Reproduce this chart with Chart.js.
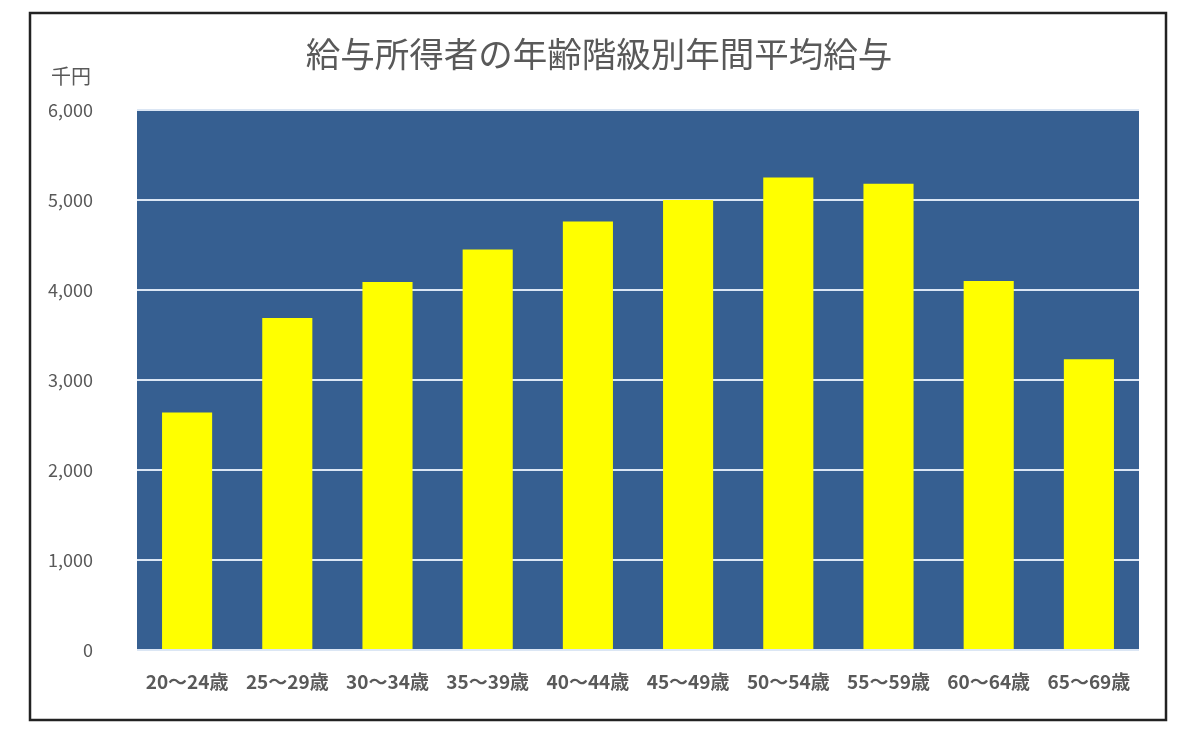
<!DOCTYPE html>
<html>
<head>
<meta charset="utf-8">
<script src="https://cdn.jsdelivr.net/npm/chart.js@4"></script>
<style>
  html, body { margin: 0; padding: 0; background: #fff; }
  #wrap { width: 1200px; height: 732px; position: relative; }
</style>
</head>
<body>
<div id="wrap"><canvas id="chart-salary"></canvas></div>
<script>
const chartTitle = "給与所得者の年齢階級別年間平均給与";
const unitLabel = "千円";
const ageGroups = ["20～24歳", "25～29歳", "30～34歳", "35～39歳", "40～44歳",
                   "45～49歳", "50～54歳", "55～59歳", "60～64歳", "65～69歳"];
const avgSalary = [2640, 3690, 4090, 4450, 4760, 5000, 5250, 5180, 4100, 3230];
const yTicks = [0, 1000, 2000, 3000, 4000, 5000, 6000];

const FONT = "'Noto Sans CJK JP', 'Noto Sans', sans-serif";
const GREY = "#595959";

// plot background, title, unit label and outer frame
const decor = {
    id: "decor",
    beforeDraw(chart) {
        const { ctx, chartArea: a } = chart;
        ctx.save();
        ctx.fillStyle = "#365f91";
        ctx.fillRect(a.left, a.top, a.right - a.left, a.bottom - a.top);
        ctx.restore();
    },
    afterDraw(chart) {
        const { ctx } = chart;
        ctx.save();
        ctx.fillStyle = GREY;
        ctx.textAlign = "center";
        ctx.textBaseline = "middle";
        ctx.font = "34.5px " + FONT;
        ctx.fillText(chartTitle, 599, 54);
        ctx.font = "20px " + FONT;
        ctx.fillText(unitLabel, 71, 76);
        ctx.strokeStyle = "#222";
        ctx.lineWidth = 2.5;
        ctx.strokeRect(30, 13, 1136, 707);
        ctx.restore();
    },
};

const ctx = document.getElementById("chart-salary").getContext("2d");
const chart = new Chart(ctx, {
    type: "bar",
    data: {
        labels: ageGroups,
        datasets: [
            {
                label: "年間平均給与",
                data: avgSalary,
                backgroundColor: "#ffff00",
                borderWidth: 0,
                barPercentage: 0.5,
                categoryPercentage: 1.0,
            },
        ],
    },
    options: {
        responsive: true,
        maintainAspectRatio: false,
        animation: false,
        layout: {
            padding: { left: 30, right: 61, top: 110, bottom: 0 },
        },
        plugins: {
            legend: { display: false },
            tooltip: { enabled: false },
            title: { display: false },
        },
        scales: {
            x: {
                grid: { display: false, drawTicks: false },
                border: { display: false },
                ticks: {
                    color: GREY,
                    font: { family: FONT, size: 19, weight: "bold" },
                    padding: 20,
                    autoSkip: false,
                    maxRotation: 0,
                },
                afterFit(scale) {
                    scale.height = 82;
                },
            },
            y: {
                min: 0,
                max: 6000,
                afterBuildTicks(scale) {
                    scale.ticks = yTicks.map((v) => ({ value: v }));
                },
                grid: {
                    color: "#dbe6f4",
                    lineWidth: 2,
                    drawTicks: false,
                },
                border: { display: false },
                ticks: {
                    color: GREY,
                    font: { family: FONT, size: 18 },
                    padding: 44,
                    callback: (v) => v.toLocaleString("en-US"),
                },
                afterFit(scale) {
                    scale.width = 107;
                },
            },
        },
    },
    plugins: [decor],
});
</script>
</body>
</html>
